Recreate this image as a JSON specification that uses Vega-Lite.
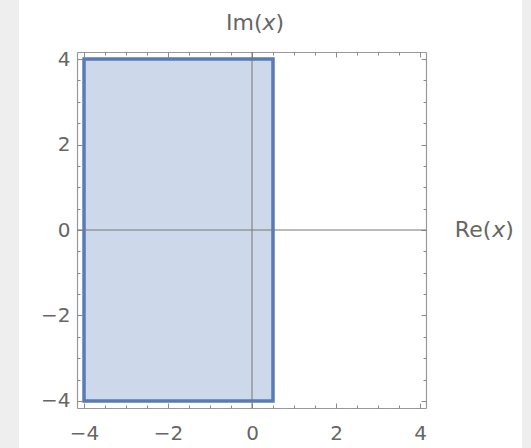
{
  "$schema": "https://vega.github.io/schema/vega-lite/v6.json",
  "width": 349,
  "height": 356,
  "autosize": {"type": "none"},
  "padding": {"left": 77, "top": 52, "right": 105, "bottom": 40},
  "background": "#ffffff",
  "config": {
    "view": {"stroke": null},
    "axis": {"zindex": 2, "grid": false, "title": null, "labelFont": "DejaVu Sans", "labelFontSize": 20, "labelColor": "#666666", "domainColor": "#999999", "tickColor": "#8a8a8a", "domainWidth": 1.2, "tickWidth": 1}
  },
  "datasets": {
    "strips": [{"sx1": -6.2, "sx2": -5.55, "sy1": -5.4, "sy2": 5.6}, {"sx1": 6.43, "sx2": 7.0, "sy1": -5.4, "sy2": 5.6}],
    "region": [{"rx1": -4, "rx2": 0.5, "ry1": -4, "ry2": 4}],
    "vline": [{"vx": 0}],
    "hline": [{"hy": 0}],
    "labels": [
      {"lx": 0, "ly": 4.84, "im": "Im(", "var": "x", "close": ")"},
      {"lx": 4.83, "ly": 0, "im": "Re(", "var": "x", "close": ")"}
    ]
  },
  "resolve": {"axis": {"x": "independent", "y": "independent"}},
  "layer": [
    {
      "data": {"name": "strips"},
      "mark": {"type": "rect", "clip": false, "fill": "#eeeeee"},
      "encoding": {
        "x": {"field": "sx1", "type": "quantitative", "scale": {"domain": [-4.167, 4.143], "nice": false, "zero": false},
              "axis": {"orient": "bottom", "values": [-4, -2, 0, 2, 4], "tickSize": -5, "labelPadding": 20, "domain": true}},
        "x2": {"field": "sx2"},
        "y": {"field": "sy1", "type": "quantitative", "scale": {"domain": [-4.164, 4.164], "nice": false, "zero": false},
              "axis": {"orient": "left", "values": [-4, -2, 0, 2, 4], "tickSize": -5, "labelPadding": 12, "domain": true}},
        "y2": {"field": "sy2"}
      }
    },
    {
      "data": {"name": "region"},
      "mark": {"type": "rect", "fill": "#cdd8ea", "stroke": "#5a7bb3", "strokeWidth": 3.5},
      "encoding": {
        "x": {"field": "rx1", "type": "quantitative", "scale": {"domain": [-4.167, 4.143], "nice": false, "zero": false},
              "axis": {"orient": "top", "values": [-4, -2, 0, 2, 4], "tickSize": -5, "labels": false, "domain": true}},
        "x2": {"field": "rx2"},
        "y": {"field": "ry1", "type": "quantitative", "scale": {"domain": [-4.164, 4.164], "nice": false, "zero": false},
              "axis": {"orient": "right", "values": [-4, -2, 0, 2, 4], "tickSize": -5, "labels": false, "domain": true}},
        "y2": {"field": "ry2"}
      }
    },
    {
      "data": {"name": "vline"},
      "mark": {"type": "rule", "color": "#777777", "strokeWidth": 1},
      "encoding": {
        "x": {"field": "vx", "type": "quantitative", "scale": {"domain": [-4.167, 4.143], "nice": false, "zero": false},
              "axis": {"orient": "bottom", "values": [-4, -3.5, -3, -2.5, -2, -1.5, -1, -0.5, 0, 0.5, 1, 1.5, 2, 2.5, 3, 3.5, 4], "tickSize": -3, "labels": false, "domain": false}}
      }
    },
    {
      "data": {"name": "hline"},
      "mark": {"type": "rule", "color": "#777777", "strokeWidth": 1},
      "encoding": {
        "y": {"field": "hy", "type": "quantitative", "scale": {"domain": [-4.164, 4.164], "nice": false, "zero": false},
              "axis": {"orient": "left", "values": [-4, -3.5, -3, -2.5, -2, -1.5, -1, -0.5, 0, 0.5, 1, 1.5, 2, 2.5, 3, 3.5, 4], "tickSize": -3, "labels": false, "domain": false}}
      }
    },
    {
      "data": {"name": "labels"},
      "transform": [{"filter": "datum.im == 'Im('"}],
      "mark": {"type": "text", "clip": false, "align": "right", "baseline": "middle", "dx": 10.5, "font": "DejaVu Sans", "fontSize": 22, "color": "#666666"},
      "encoding": {
        "x": {"field": "lx", "type": "quantitative", "scale": {"domain": [-4.167, 4.143], "nice": false, "zero": false},
              "axis": {"orient": "top", "values": [-4, -3.5, -3, -2.5, -2, -1.5, -1, -0.5, 0, 0.5, 1, 1.5, 2, 2.5, 3, 3.5, 4], "tickSize": -3, "labels": false, "domain": false}},
        "y": {"field": "ly", "type": "quantitative", "scale": {"domain": [-4.164, 4.164], "nice": false, "zero": false},
              "axis": {"orient": "right", "values": [-4, -3.5, -3, -2.5, -2, -1.5, -1, -0.5, 0, 0.5, 1, 1.5, 2, 2.5, 3, 3.5, 4], "tickSize": -3, "labels": false, "domain": false}},
        "text": {"field": "im"}
      }
    },
    {
      "data": {"name": "labels"},
      "transform": [{"filter": "datum.im == 'Im('"}],
      "mark": {"type": "text", "clip": false, "align": "left", "baseline": "middle", "dx": 10.5, "font": "DejaVu Sans", "fontSize": 22, "fontStyle": "italic", "color": "#666666"},
      "encoding": {
        "x": {"field": "lx", "type": "quantitative", "scale": {"domain": [-4.167, 4.143], "nice": false, "zero": false}, "axis": null},
        "y": {"field": "ly", "type": "quantitative", "scale": {"domain": [-4.164, 4.164], "nice": false, "zero": false}, "axis": null},
        "text": {"field": "var"}
      }
    },
    {
      "data": {"name": "labels"},
      "transform": [{"filter": "datum.im == 'Im('"}],
      "mark": {"type": "text", "clip": false, "align": "left", "baseline": "middle", "dx": 23.5, "font": "DejaVu Sans", "fontSize": 22, "color": "#666666"},
      "encoding": {
        "x": {"field": "lx", "type": "quantitative", "scale": {"domain": [-4.167, 4.143], "nice": false, "zero": false}, "axis": null},
        "y": {"field": "ly", "type": "quantitative", "scale": {"domain": [-4.164, 4.164], "nice": false, "zero": false}, "axis": null},
        "text": {"field": "close"}
      }
    },
    {
      "data": {"name": "labels"},
      "transform": [{"filter": "datum.im == 'Re('"}],
      "mark": {"type": "text", "clip": false, "align": "left", "baseline": "middle", "dx": 0, "font": "DejaVu Sans", "fontSize": 22, "color": "#666666"},
      "encoding": {
        "x": {"field": "lx", "type": "quantitative", "scale": {"domain": [-4.167, 4.143], "nice": false, "zero": false}, "axis": null},
        "y": {"field": "ly", "type": "quantitative", "scale": {"domain": [-4.164, 4.164], "nice": false, "zero": false}, "axis": null},
        "text": {"field": "im"}
      }
    },
    {
      "data": {"name": "labels"},
      "transform": [{"filter": "datum.im == 'Re('"}],
      "mark": {"type": "text", "clip": false, "align": "left", "baseline": "middle", "dx": 37.4, "font": "DejaVu Sans", "fontSize": 22, "fontStyle": "italic", "color": "#666666"},
      "encoding": {
        "x": {"field": "lx", "type": "quantitative", "scale": {"domain": [-4.167, 4.143], "nice": false, "zero": false}, "axis": null},
        "y": {"field": "ly", "type": "quantitative", "scale": {"domain": [-4.164, 4.164], "nice": false, "zero": false}, "axis": null},
        "text": {"field": "var"}
      }
    },
    {
      "data": {"name": "labels"},
      "transform": [{"filter": "datum.im == 'Re('"}],
      "mark": {"type": "text", "clip": false, "align": "left", "baseline": "middle", "dx": 50.4, "font": "DejaVu Sans", "fontSize": 22, "color": "#666666"},
      "encoding": {
        "x": {"field": "lx", "type": "quantitative", "scale": {"domain": [-4.167, 4.143], "nice": false, "zero": false}, "axis": null},
        "y": {"field": "ly", "type": "quantitative", "scale": {"domain": [-4.164, 4.164], "nice": false, "zero": false}, "axis": null},
        "text": {"field": "close"}
      }
    }
  ]
}
